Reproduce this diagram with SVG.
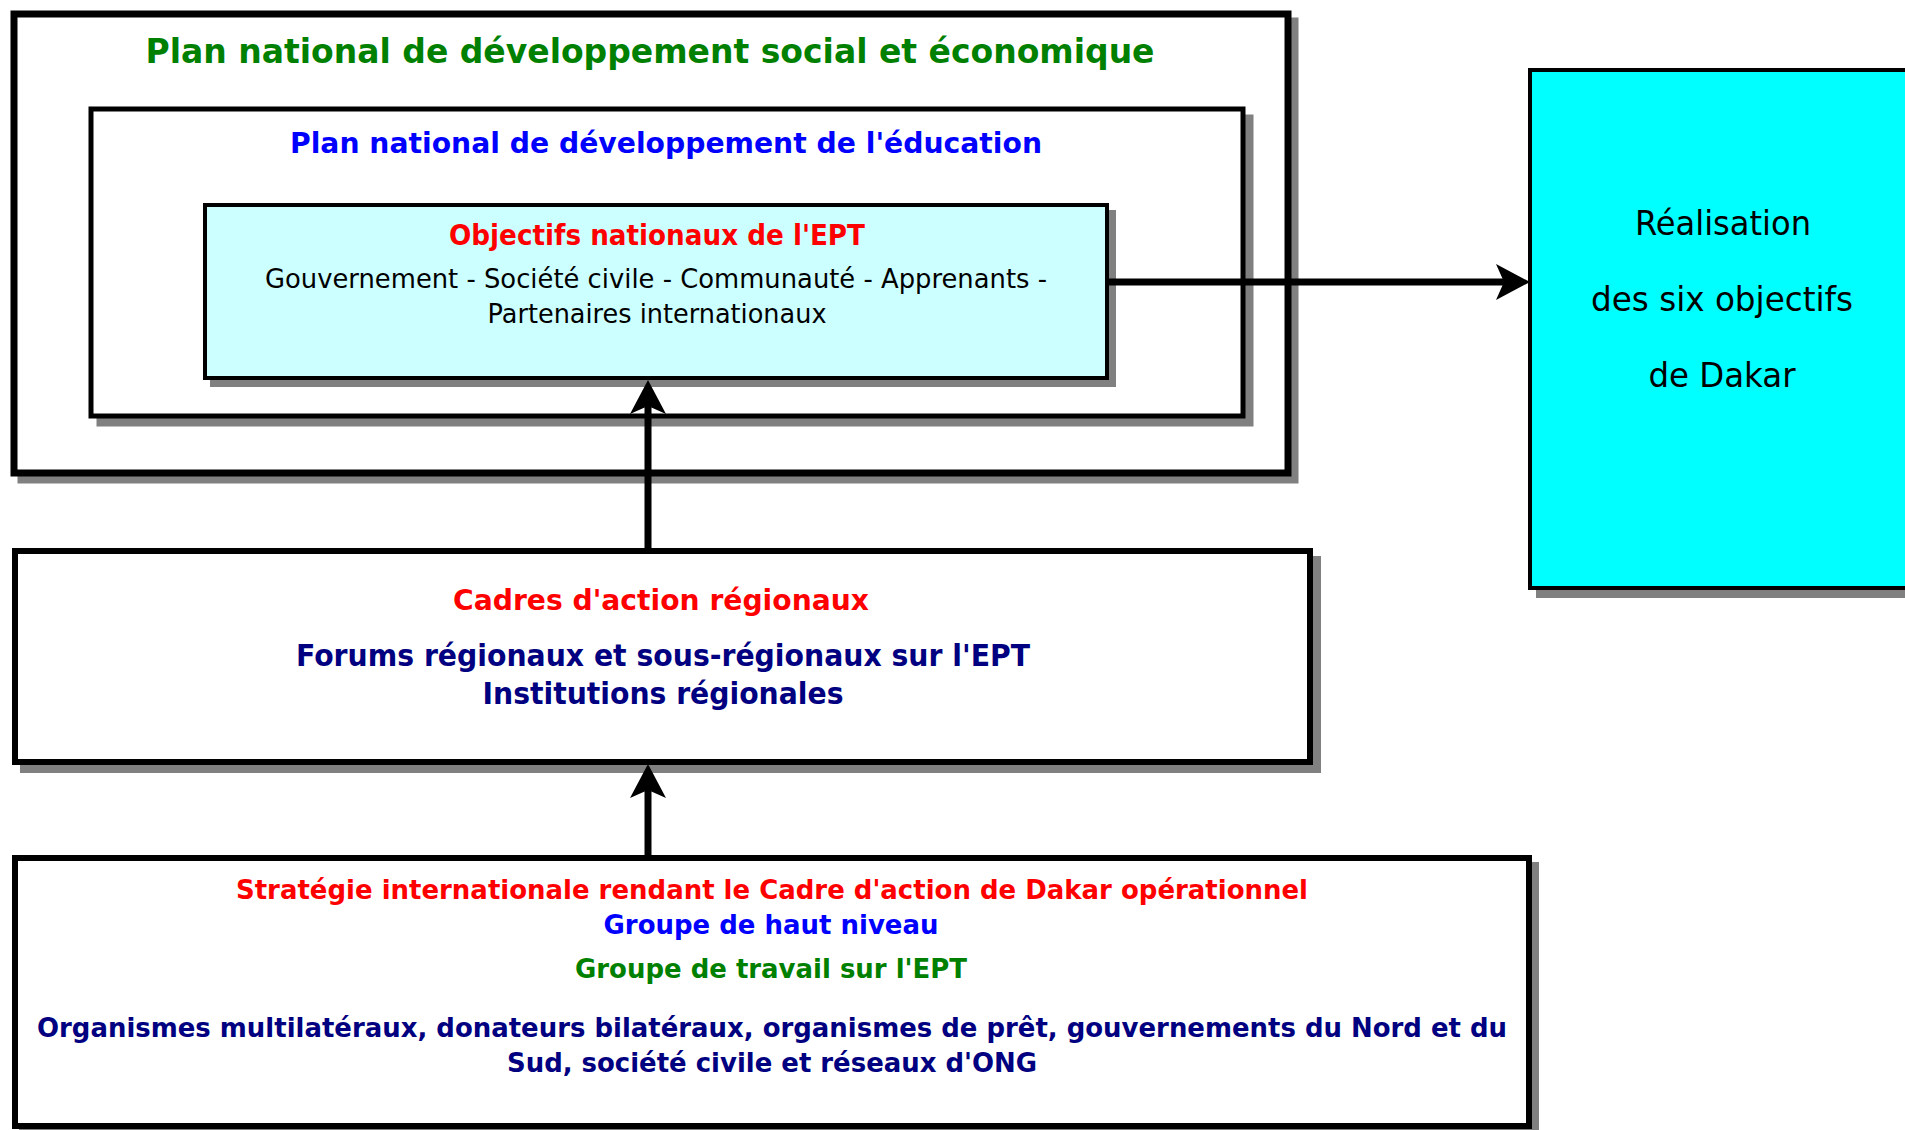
<svg xmlns="http://www.w3.org/2000/svg" width="1905" height="1130" viewBox="0 0 1905 1130">
<style>
.box{fill:#fff;stroke:#000}
.sh{fill:#808080;stroke:#808080}
.t{font-family:"DejaVu Sans","Liberation Sans",sans-serif;text-anchor:middle}
.b{font-weight:bold}
.green{fill:#008000}
.blue{fill:#0000ff}
.red{fill:#ff0000}
.navy{fill:#000080}
.blk{fill:#000}
.conn{stroke:#000;stroke-width:7;fill:none;marker-end:url(#ah)}
</style>
<defs>
<marker id="ah" markerUnits="userSpaceOnUse" viewBox="0 0 34 36" markerWidth="34" markerHeight="36" refX="8" refY="18" orient="auto">
<path d="M0,0 L34,18 L0,36 L8,18 Z" fill="#000"/>
</marker>
</defs>
<rect width="1905" height="1130" fill="#fff"/>

<g id="node-plan-social">
<rect class="sh" x="21" y="21" width="1274" height="459" stroke-width="7"/>
<rect class="box" x="14" y="14" width="1274" height="459" stroke-width="7"/>
<text class="t b green" x="650" y="63" font-size="34" textLength="1009" lengthAdjust="spacingAndGlyphs">Plan national de développement social et économique</text>
</g>

<g id="node-plan-education">
<rect class="sh" x="99" y="117" width="1152" height="307" stroke-width="5"/>
<rect class="box" x="91" y="109" width="1152" height="307" stroke-width="5"/>
<text class="t b blue" x="666" y="153" font-size="29" textLength="752" lengthAdjust="spacingAndGlyphs">Plan national de développement de l'éducation</text>
</g>

<g id="node-objectifs">
<rect class="sh" x="212" y="212" width="902" height="173" stroke-width="4"/>
<rect x="205" y="205" width="902" height="173" fill="#ccffff" stroke="#000" stroke-width="4"/>
<text class="t b red" x="657" y="245" font-size="28" textLength="416" lengthAdjust="spacingAndGlyphs">Objectifs nationaux de l'EPT</text>
<text class="t blk" x="656" y="288" font-size="27" textLength="782" lengthAdjust="spacingAndGlyphs">Gouvernement - Société civile - Communauté - Apprenants -</text>
<text class="t blk" x="657" y="323" font-size="27" textLength="339" lengthAdjust="spacingAndGlyphs">Partenaires internationaux</text>
</g>

<g id="node-realisation">
<rect class="sh" x="1538" y="78" width="380" height="518" stroke-width="4"/>
<rect x="1530" y="70" width="380" height="518" fill="#00ffff" stroke="#000" stroke-width="4"/>
<text class="t blk" x="1723" y="235" font-size="34" textLength="176" lengthAdjust="spacingAndGlyphs">Réalisation</text>
<text class="t blk" x="1722" y="311" font-size="34" textLength="262" lengthAdjust="spacingAndGlyphs">des six objectifs</text>
<text class="t blk" x="1722" y="387" font-size="34" textLength="147" lengthAdjust="spacingAndGlyphs">de Dakar</text>
</g>

<g id="node-cadres">
<rect class="sh" x="23" y="559" width="1295" height="211" stroke-width="6"/>
<rect class="box" x="15" y="551" width="1295" height="211" stroke-width="6"/>
<text class="t b red" x="661" y="610" font-size="29" textLength="416" lengthAdjust="spacingAndGlyphs">Cadres d'action régionaux</text>
<text class="t b navy" x="663" y="666" font-size="30" textLength="734" lengthAdjust="spacingAndGlyphs">Forums régionaux et sous-régionaux sur l'EPT</text>
<text class="t b navy" x="663" y="704" font-size="30" textLength="361" lengthAdjust="spacingAndGlyphs">Institutions régionales</text>
</g>

<g id="node-strategie">
<rect class="sh" x="22" y="865" width="1514" height="268" stroke-width="6"/>
<rect class="box" x="15" y="858" width="1514" height="268" stroke-width="6"/>
<text class="t b red" x="772" y="899" font-size="27" textLength="1072" lengthAdjust="spacingAndGlyphs">Stratégie internationale rendant le Cadre d'action de Dakar opérationnel</text>
<text class="t b blue" x="771" y="934" font-size="27" textLength="335" lengthAdjust="spacingAndGlyphs">Groupe de haut niveau</text>
<text class="t b green" x="771" y="978" font-size="27" textLength="392" lengthAdjust="spacingAndGlyphs">Groupe de travail sur l'EPT</text>
<text class="t b navy" x="772" y="1037" font-size="27" textLength="1470" lengthAdjust="spacingAndGlyphs">Organismes multilatéraux, donateurs bilatéraux, organismes de prêt, gouvernements du Nord et du</text>
<text class="t b navy" x="772" y="1072" font-size="27" textLength="530" lengthAdjust="spacingAndGlyphs">Sud, société civile et réseaux d'ONG</text>
</g>

<g id="connectors">
<line class="conn" x1="1109" y1="282" x2="1504" y2="282"/>
<line class="conn" x1="648" y1="548" x2="648" y2="406"/>
<line class="conn" x1="648" y1="855" x2="648" y2="790"/>
</g>
</svg>
